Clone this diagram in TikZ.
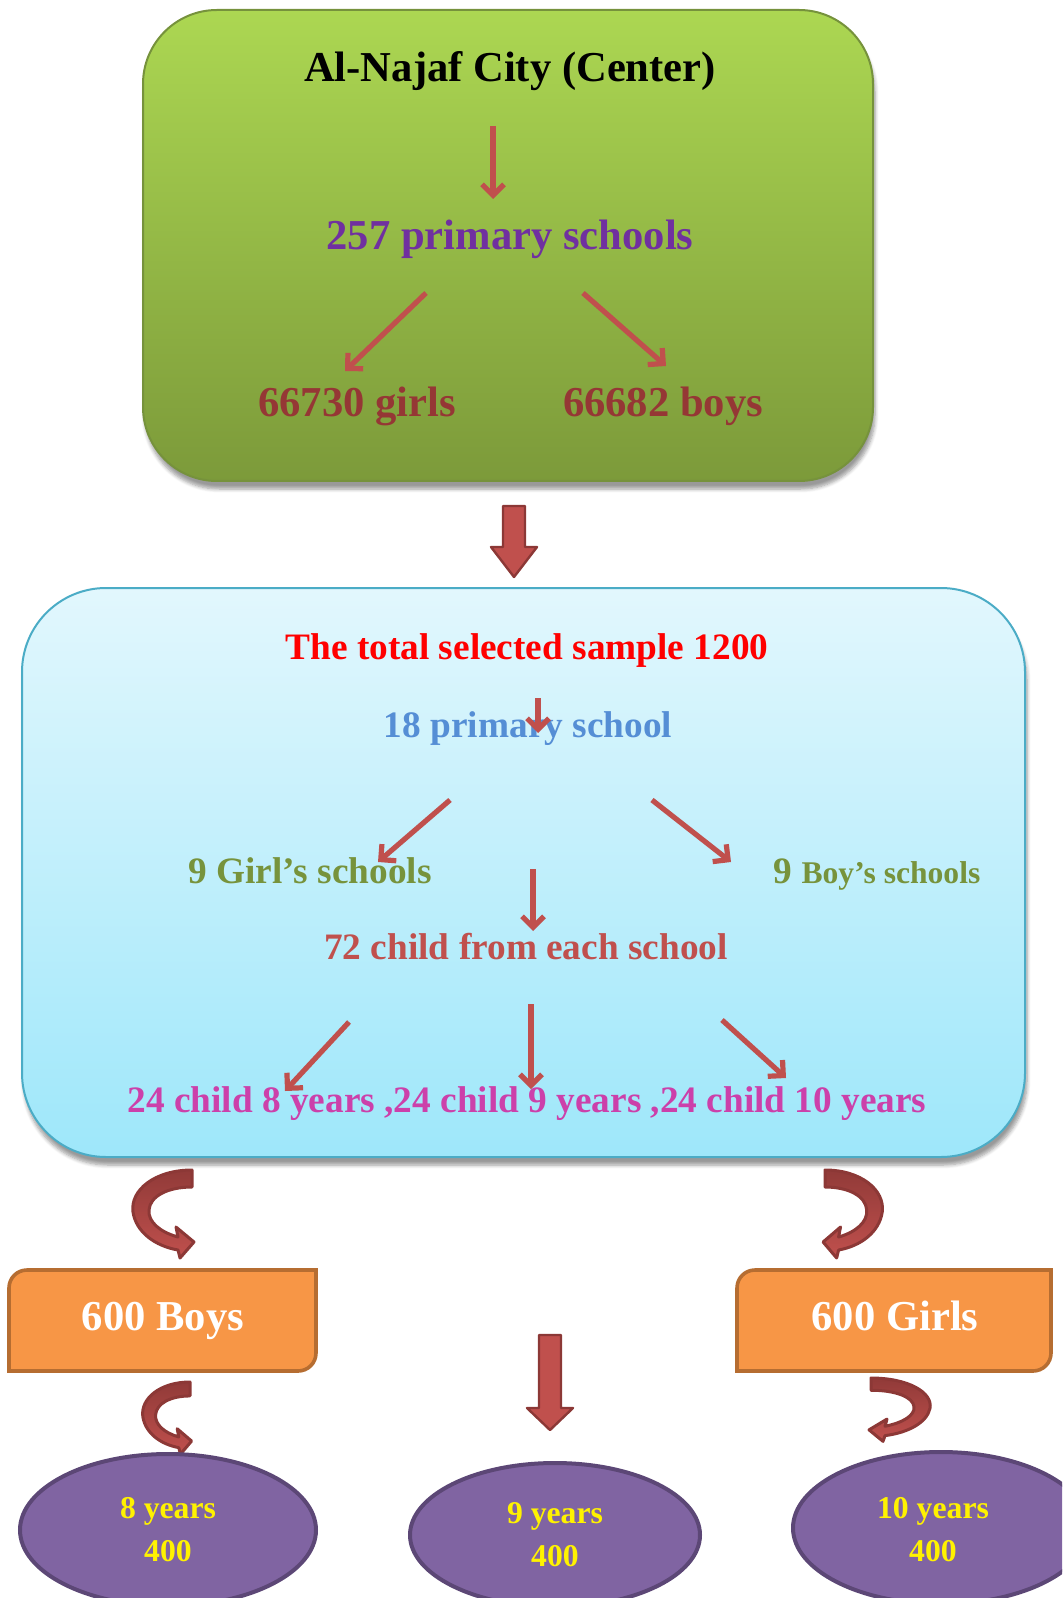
\documentclass[tikz,border=0pt]{standalone}
\usepackage{fontspec}
\setmainfont{Liberation Serif}
\usetikzlibrary{arrows.meta,shadows.blur,shapes.geometric}

\definecolor{cityTop}{RGB}{172,215,82}
\definecolor{cityBot}{RGB}{124,154,58}
\definecolor{cityLine}{RGB}{118,146,60}
\definecolor{sampTop}{RGB}{226,247,253}
\definecolor{sampBot}{RGB}{158,231,250}
\definecolor{sampLine}{RGB}{75,172,198}
\definecolor{arrowRed}{RGB}{192,80,77}
\definecolor{arrowDark}{RGB}{140,56,54}
\definecolor{txtPurple}{RGB}{112,48,160}
\definecolor{txtBrown}{RGB}{149,55,53}
\definecolor{txtBlue}{RGB}{85,142,213}
\definecolor{txtOlive}{RGB}{119,147,60}
\definecolor{txtPink}{RGB}{204,64,170}
\definecolor{boxOrange}{RGB}{247,150,70}
\definecolor{boxOrangeLine}{RGB}{182,109,49}
\definecolor{ellFill}{RGB}{128,100,162}
\definecolor{ellLine}{RGB}{92,71,118}

\begin{document}
\begin{tikzpicture}
[x=0.5pt,y=-0.5pt,%
  every node/.style={inner sep=0pt,font=\bfseries},%
  bigtxt/.style={font=\fontsize{21.3}{25}\selectfont\bfseries},%
  midtxt/.style={font=\fontsize{18.65}{22}\selectfont\bfseries},%
  thinarrow/.style={draw=arrowRed,line width=2.6pt,-{Straight Barb[length=5.5pt,width=11pt]}},%
  blockarrow/.style={fill=arrowRed,draw=arrowDark,line width=1.2pt,line join=round},%
  curvearrow/.style={top color=arrowDark!90!arrowRed,bottom color=arrowRed,draw=arrowDark,line width=1.5pt,line join=round},%
  orangebox/.style={fill=boxOrange,draw=boxOrangeLine,line width=1.8pt},%
  yearball/.style={ellipse,fill=ellFill,draw=ellLine,line width=2pt,align=center,text=yellow,
    font=\fontsize{15.85}{21.5}\selectfont\bfseries}]
\useasboundingbox (0,0) rectangle (1062,1598);
\clip (0,0) rectangle (1062,1598);

% city box
\draw[rounded corners=37pt,top color=cityTop,bottom color=cityBot,draw=cityLine,line width=1pt,
  blur shadow={shadow xshift=1pt,shadow yshift=-4pt,shadow blur steps=6}] (143,10) rectangle (873,481);
\node[bigtxt,anchor=base] (city) at (510,82) {Al-Najaf City (Center)};
\node[bigtxt,anchor=base,text=txtPurple] (schools) at (510,250) {257 primary schools};
\node[bigtxt,anchor=base,text=txtBrown] (girls) at (357,417) {66730 girls};
\node[bigtxt,anchor=base,text=txtBrown] (boys) at (663,417) {66682 boys};
\coordinate (cityOut) at (493,126);
\coordinate (schoolsIn) at (493,199);
\coordinate (schoolsL) at (426,293);
\coordinate (girlsIn) at (345,371);
\coordinate (schoolsR) at (583,293);
\coordinate (boysIn) at (666,366);
\draw[thinarrow] (cityOut) -- (schoolsIn);
\draw[thinarrow] (schoolsL) -- (girlsIn);
\draw[thinarrow] (schoolsR) -- (boysIn);

\draw[blockarrow] (503,506) -- (525,506) -- (525,547) -- (537,547) -- (514,577) -- (491,547) -- (503,547) -- cycle;

% sample box
\draw[rounded corners=42pt,top color=sampTop,bottom color=sampBot,draw=sampLine,line width=1pt,
  blur shadow={shadow xshift=1pt,shadow yshift=-4pt,shadow blur steps=6}] (22,588) rectangle (1025,1157);
\node[midtxt,anchor=base,text=red] (total) at (527,659) {The total selected sample 1200};
\node[midtxt,anchor=base,text=txtBlue] (prim) at (528,737) {18 primary school};
\node[midtxt,anchor=base,text=txtOlive] (girlsch) at (310,883) {9 Girl’s schools};
\node[midtxt,anchor=base,text=txtOlive] (boysch) at (877,883) {9 {\fontsize{15.8}{19}\selectfont Boy’s schools}};
\node[midtxt,anchor=base,text=arrowRed] (each) at (526,959) {72 child from each school};
\node[midtxt,anchor=base,text=txtPink] (ages) at (527,1112) {24 child 8 years ,24 child 9 years ,24 child 10 years};
\coordinate (totalOut) at (538,698);
\coordinate (primIn) at (538,733);
\coordinate (primL) at (450,800);
\coordinate (girlschIn) at (378,862);
\coordinate (primR) at (652,800);
\coordinate (boyschIn) at (731,862);
\coordinate (schOut) at (533,869);
\coordinate (eachIn) at (533,931);
\coordinate (eachL) at (349,1022);
\coordinate (age8In) at (285,1091);
\coordinate (eachM) at (531,1004);
\coordinate (age9In) at (531,1089);
\coordinate (eachR) at (722,1020);
\coordinate (age10In) at (786,1078);
\draw[thinarrow] (totalOut) -- (primIn);
\draw[thinarrow] (primL) -- (girlschIn);
\draw[thinarrow] (primR) -- (boyschIn);
\draw[thinarrow] (schOut) -- (eachIn);
\draw[thinarrow] (eachL) -- (age8In);
\draw[thinarrow] (eachM) -- (age9In);
\draw[thinarrow] (eachR) -- (age10In);

% curved arrows
\foreach \px/\py/\sx/\sy in {192/1170/1/1, 825/1170/-0.97/1, 190/1382/0.8/0.82, 871/1378/-1/0.72}
{
  \begin{scope}[shift={(\px,\py)},xscale=\sx,yscale=\sy]
    \draw[curvearrow] (0,0) .. controls (-37,0) and (-62,20) .. (-59,42)
      .. controls (-56,62) and (-37,76) .. (-14,80) -- (-12,88) -- (2,72) -- (-16,57) -- (-14,67)
      .. controls (-32,62) and (-44,52) .. (-43,40) .. controls (-42,26) and (-24,17) .. (0,17) -- cycle;
  \end{scope}
}

% gender boxes
\draw[orangebox] (9,1371) -- (9,1288) .. controls (9,1278) and (17,1270) .. (27,1270) -- (316,1270)
  -- (316,1353) .. controls (316,1363) and (308,1371) .. (298,1371) -- cycle;
\node[bigtxt,anchor=base,text=white] (boys600) at (163,1330) {600 Boys};
\draw[orangebox] (737,1371) -- (737,1288) .. controls (737,1278) and (745,1270) .. (755,1270) -- (1051,1270)
  -- (1051,1353) .. controls (1051,1363) and (1043,1371) .. (1033,1371) -- cycle;
\node[bigtxt,anchor=base,text=white] (girls600) at (895,1330) {600 Girls};

\draw[blockarrow] (539,1335) -- (561,1335) -- (561,1408) -- (573,1408) -- (550,1430) -- (527,1408) -- (539,1408) -- cycle;

% age groups
\node[yearball,minimum width=148pt,minimum height=76pt] (age8) at (168,1530) {8 years\\400};
\node[yearball,minimum width=145pt,minimum height=72pt] (age9) at (555,1535) {9 years\\400};
\node[yearball,minimum width=148pt,minimum height=76pt] (age10) at (941,1528) {};
\node[yearball,draw=none,fill=none] (age10txt) at ([xshift=-4pt,yshift=-1pt]age10.center) {10 years\\400};
\end{tikzpicture}
\end{document}
